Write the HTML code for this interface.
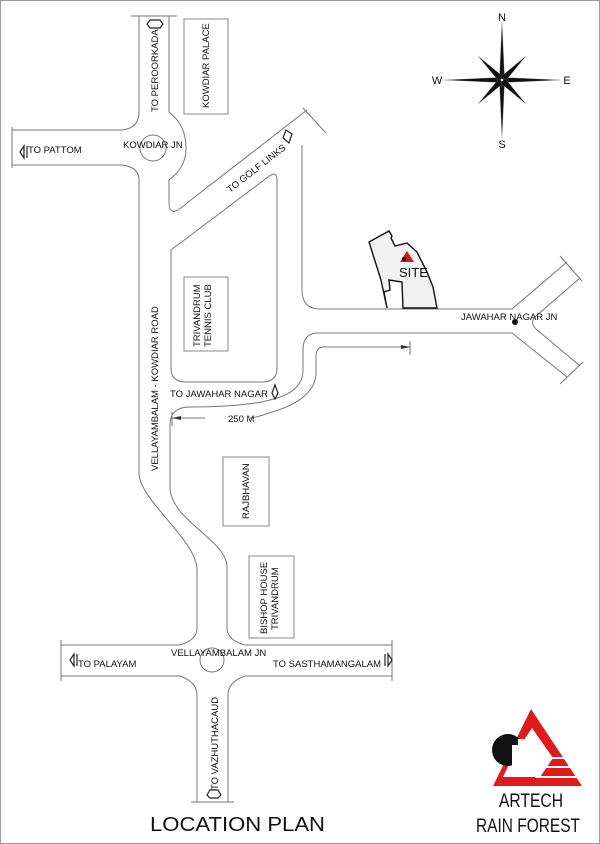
<!DOCTYPE html>
<html><head><meta charset="utf-8"><style>
html,body{margin:0;padding:0;background:#fff}
svg{display:block}
text{font-family:"Liberation Sans",sans-serif;fill:#111}
</style></head><body>
<svg width="600" height="844" viewBox="0 0 600 844" xmlns="http://www.w3.org/2000/svg">
<defs><clipPath id="tri"><path d="M531 709 L582 786 H493 Z"/></clipPath></defs>
<rect x="0.5" y="0.5" width="599" height="843" fill="#fff" stroke="#999"/>
<g fill="none" stroke="#777" stroke-width="1">
<path d="M139 16 V112 Q139 128 122 130 H12"/>
<path d="M12 165 H122 Q139 167 139 180 V473 C139 500 197 540 197 570 V628 Q197 640 180 645 H61"/>
<path d="M169 16 V112 Q186 125 186 148 Q186 168 169 180 V202 Q169 215 178 210 L307 110"/>
<path d="M171 250 L268 177 Q277 170 277 180 V368 Q277 382 262 382 H186 Q171 382 171 368 Z"/>
<path d="M302 145 V290 Q302 309 320 309 H512 L567 262"/>
<path d="M580 278 L536 316 Q529 322 536 329 L580 366"/>
<path d="M567 377 L512 333 H318 Q303 333 303 350 V370 Q303 390 277 398 Q250 407 190 407 Q170 407 170 425 V487 C170 520 227 540 227 567 V628 Q227 640 245 645 H392"/>
<path d="M61 676 H180 Q197 682 197 695 V802"/>
<path d="M392 676 H245 Q228 682 228 695 V802"/>
<circle cx="153" cy="148" r="13"/>
<circle cx="212" cy="660" r="12"/>
<path d="M131 16 H177 M12 127 V168 M61 640 V681 M392 640 V681 M191 802 H234 M560 256 L582 281 M560 384 L583 362 M303 108 L326 133"/>
<path d="M410 347 H323 Q317 347 316 355 V375 Q313 400 272 412 Q255 418 250 418 M205 418 H172 M172 412 V426"/>
</g>
<path d="M172 418 L181 416 V420 Z" fill="#333"/>
<path d="M410 347 L401 345 V349 Z" fill="#333"/><path d="M410 341 V355" stroke="#777"/>
<g fill="none" stroke="#222" stroke-width="1.2">
<path d="M147 24 L150 20 L160 20 L163 24 L160 28 L150 28 Z"/>
<path d="M20 152 L24 146 V158 Z M27 146 V158"/>
<path d="M70 660 L74 654 V666 Z M77 654 V666"/>
<path d="M392 660 L388 654 V666 Z M385 654 V666"/>
<path d="M207 795 L210 790 L218 790 L221 795 L218 798 L210 798 Z"/>
<path d="M272 393 L275 385 L278 393 L275 399 Z"/>
<path d="M283 138 L286 130 L292 134 L289 143 Z"/>
</g>
<g fill="none" stroke="#888">
<rect x="184" y="19" width="44" height="95"/>
<rect x="184" y="277" width="44" height="74"/>
<rect x="223" y="457" width="46" height="69"/>
<rect x="249" y="556" width="45" height="82"/>
</g>
<polygon points="369,242 389,231 392,236 391,238 395,246 407,243 417,252 427,272 433,287 437,308 403,308 402,282 389,280 390,290 384,292 387,308 381,280" fill="#f2f2f2" stroke="#111" stroke-width="1.4"/>
<path d="M407 251 L400 262 H414 Z" fill="#d0161b"/>
<circle cx="404" cy="259" r="2" fill="#111"/>
<text x="399" y="277" font-size="13">SITE</text>
<circle cx="515" cy="322" r="3" fill="#111"/>
<g font-size="9.5">
<text transform="translate(158,112) rotate(-90)">TO PEROORKADA</text>
<text transform="translate(209,108) rotate(-90)">KOWDIAR PALACE</text>
<text x="28" y="153">TO PATTOM</text>
<text x="123" y="148">KOWDIAR JN</text>
<text transform="translate(230,193) rotate(-38)">TO GOLF LINKS</text>
<text transform="translate(200,347) rotate(-90)">TRIVANDRUM</text>
<text transform="translate(211,347) rotate(-90)">TENNIS CLUB</text>
<text transform="translate(158,471) rotate(-90)">VELLAYAMBALAM - KOWDIAR  ROAD</text>
<text x="170" y="397">TO JAWAHAR NAGAR</text>
<text x="228" y="422">250 M</text>
<text transform="translate(249,519) rotate(-90)">RAJBHAVAN</text>
<text transform="translate(267,634) rotate(-90)">BISHOP HOUSE</text>
<text transform="translate(278,630) rotate(-90)">TRIVANDRUM</text>
<text x="171" y="656">VELLAYAMBALAM JN</text>
<text x="78" y="667">TO PALAYAM</text>
<text x="273" y="667">TO SASTHAMANGALAM</text>
<text transform="translate(218,790) rotate(-90)">TO VAZHUTHACAUD</text>
<text x="461" y="320">JAWAHAR NAGAR JN</text>
</g>
<g transform="translate(502,80)">
<g fill="#111" stroke="#888" stroke-width="0.3">
<path d="M0 -58 L2.5 -3 L-2.5 -3 Z"/><path d="M0 58 L2.5 3 L-2.5 3 Z"/>
<path d="M-58 0 L-3 -2.5 L-3 2.5 Z"/><path d="M58 0 L3 -2.5 L3 2.5 Z"/>
<path d="M-24 -24 L1.5 -3 L-3 1.5 Z"/><path d="M24 -24 L3 1.5 L-1.5 -3 Z"/>
<path d="M-24 24 L-3 -1.5 L1.5 3 Z"/><path d="M24 24 L-1.5 3 L3 -1.5 Z"/>
</g>
<g font-size="11" text-anchor="middle"><text x="0" y="-59">N</text><text x="0" y="68">S</text><text x="-65" y="4">W</text><text x="65" y="4">E</text></g>
</g>
<path d="M531 709 L582 786 H493 Z" fill="#e01b1b"/>
<path d="M532 728 L553 758 H512 Z" fill="#fff"/>
<path d="M512 758 H553 L540 777 H503 Z" fill="#fff"/>
<g clip-path="url(#tri)" stroke="#fff" stroke-width="2"><path d="M540 758 H590 M540 767 H590 M535 777 H590"/></g>
<circle cx="508" cy="750" r="16" fill="#111"/>
<path d="M512 766 V745 H518 V739 H524 V766 Z" fill="#fff"/>
<text x="531" y="807" font-size="19" text-anchor="middle" textLength="64" lengthAdjust="spacingAndGlyphs">ARTECH</text>
<text x="528" y="832" font-size="19" text-anchor="middle" textLength="104" lengthAdjust="spacingAndGlyphs">RAIN FOREST</text>
<text x="150" y="831" font-size="20" textLength="175" lengthAdjust="spacingAndGlyphs">LOCATION PLAN</text>
</svg>
</body></html>
